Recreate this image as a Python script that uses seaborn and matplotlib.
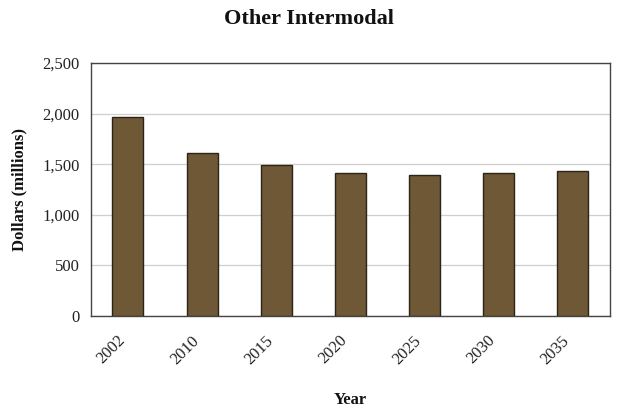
import matplotlib
matplotlib.use("Agg")
import matplotlib.pyplot as plt
import seaborn as sns
import pandas as pd

years = ["2002", "2010", "2015", "2020", "2025", "2030", "2035"]
dollars = [1970, 1610, 1490, 1415, 1390, 1415, 1430]
y_ticks = [0, 500, 1000, 1500, 2000, 2500]
y_tick_labels = ["0", "500", "1,000", "1,500", "2,000", "2,500"]

sns.set_theme(style="white")
plt.rcParams["font.family"] = ["Liberation Serif", "DejaVu Serif"]

df = pd.DataFrame({"Year": years, "Dollars": dollars})

fig = plt.figure(figsize=(6.18, 4.09), dpi=100)
ax = fig.add_axes([0.147, 0.2274, 0.840, 0.6186])

sns.barplot(data=df, x="Year", y="Dollars", ax=ax, color="#6e5835",
            saturation=1, width=0.42, edgecolor="#2b2418", linewidth=1.0,
            zorder=3)

ax.set_ylim(0, 2500)
ax.set_yticks(y_ticks)
ax.set_yticklabels(y_tick_labels, fontsize=12, color="#222222")
ax.set_xticklabels(years, rotation=45, fontsize=12, color="#222222",
                   ha="right")
ax.tick_params(axis="y", length=0, pad=8)
ax.tick_params(axis="x", length=0, pad=12)
ax.yaxis.grid(True, color="#cfcfcf", linewidth=0.9, zorder=0)
ax.set_axisbelow(True)

for side in ["left", "bottom", "top", "right"]:
    ax.spines[side].set_visible(True)
    ax.spines[side].set_color("#444444")
    ax.spines[side].set_linewidth(1.0)

ax.set_xlabel("Year", fontsize=12, fontweight="bold", labelpad=18,
              color="#111111")
ax.set_ylabel("Dollars (millions)", fontsize=12, fontweight="bold",
              labelpad=11, color="#111111")
fig.suptitle("Other Intermodal", x=0.5, y=0.978, fontsize=16,
             fontweight="bold", color="#111111")

fig.savefig("out.png", dpi=100)
